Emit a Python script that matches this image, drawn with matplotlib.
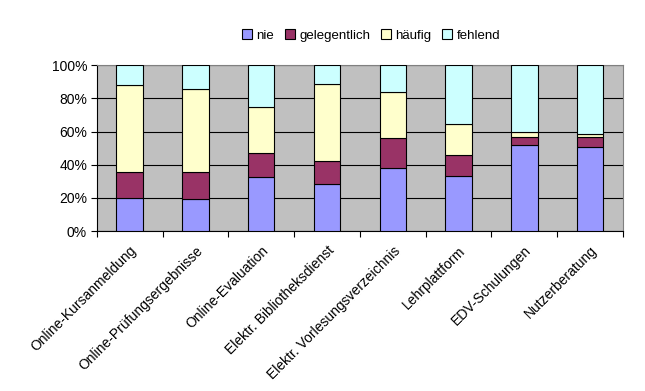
import numpy as np
import matplotlib
matplotlib.use('Agg')
import matplotlib.pyplot as plt
from matplotlib.patches import Patch

plt.rcParams['font.family'] = ['Liberation Sans', 'DejaVu Sans']

categories = ['Online-Kursanmeldung', 'Online-Prüfungsergebnisse', 'Online-Evaluation',
              'Elektr. Bibliotheksdienst', 'Elektr. Vorlesungsverzeichnis', 'Lehrplattform',
              'EDV-Schulungen', 'Nutzerberatung']
nie = [20.2, 19.6, 32.9, 28.2, 37.9, 33.1, 51.8, 51.0]
gelegentlich = [15.7, 16.3, 14.1, 14.3, 18.1, 12.9, 5.1, 5.9]
haeufig = [52.0, 49.8, 27.8, 46.2, 27.9, 18.5, 2.6, 1.6]
fehlend = [100 - a - b - c for a, b, c in zip(nie, gelegentlich, haeufig)]

series = [('nie', nie, '#9999FF'), ('gelegentlich', gelegentlich, '#993366'),
          ('häufig', haeufig, '#FFFFCC'), ('fehlend', fehlend, '#CCFFFF')]

fig = plt.figure(figsize=(6.45, 3.91), dpi=100)
ax = fig.add_axes([0.150, 0.409, 0.816, 0.424])
ax.set_facecolor('#C0C0C0')

x = np.arange(len(categories))
bottom = np.zeros(len(categories))
for name, vals, col in series:
    ax.bar(x, vals, 0.4, bottom=bottom, color=col, edgecolor='black', linewidth=0.8, zorder=3)
    bottom += np.array(vals)

ax.set_xlim(-0.5, len(categories) - 0.5)
ax.set_ylim(0, 100)
ax.set_yticks(range(0, 101, 20))
ax.set_yticklabels([f'{v}%' for v in range(0, 101, 20)], fontsize=10)
ax.yaxis.grid(True, color='black', linewidth=0.8, zorder=1)
ax.set_axisbelow(True)

ax.set_xticks(np.arange(-0.5, len(categories)), minor=False)
ax.set_xticklabels([])
ax.set_xticks(x, minor=True)
ax.set_xticklabels(categories, minor=True, rotation=45, ha='right', va='top',
                   rotation_mode='anchor', fontsize=10)
ax.tick_params(axis='x', which='minor', length=0, pad=9)
ax.tick_params(axis='x', which='major', length=4, direction='out', color='black')
ax.tick_params(axis='y', length=4, direction='out', color='black', pad=3)

for s in ['top', 'right']:
    ax.spines[s].set_color('#808080')
    ax.spines[s].set_linewidth(0.8)
for s in ['left', 'bottom']:
    ax.spines[s].set_color('black')
    ax.spines[s].set_linewidth(0.8)

handles = [Patch(facecolor=c, edgecolor='black', linewidth=0.8, label=n) for n, _, c in series]
fig.legend(handles=handles, loc='center', bbox_to_anchor=(0.575, 0.91), ncol=4,
           frameon=False, fontsize=9.5, handlelength=0.8, handleheight=0.8,
           handletextpad=0.3, columnspacing=0.8)

fig.savefig('out.png', dpi=100)
